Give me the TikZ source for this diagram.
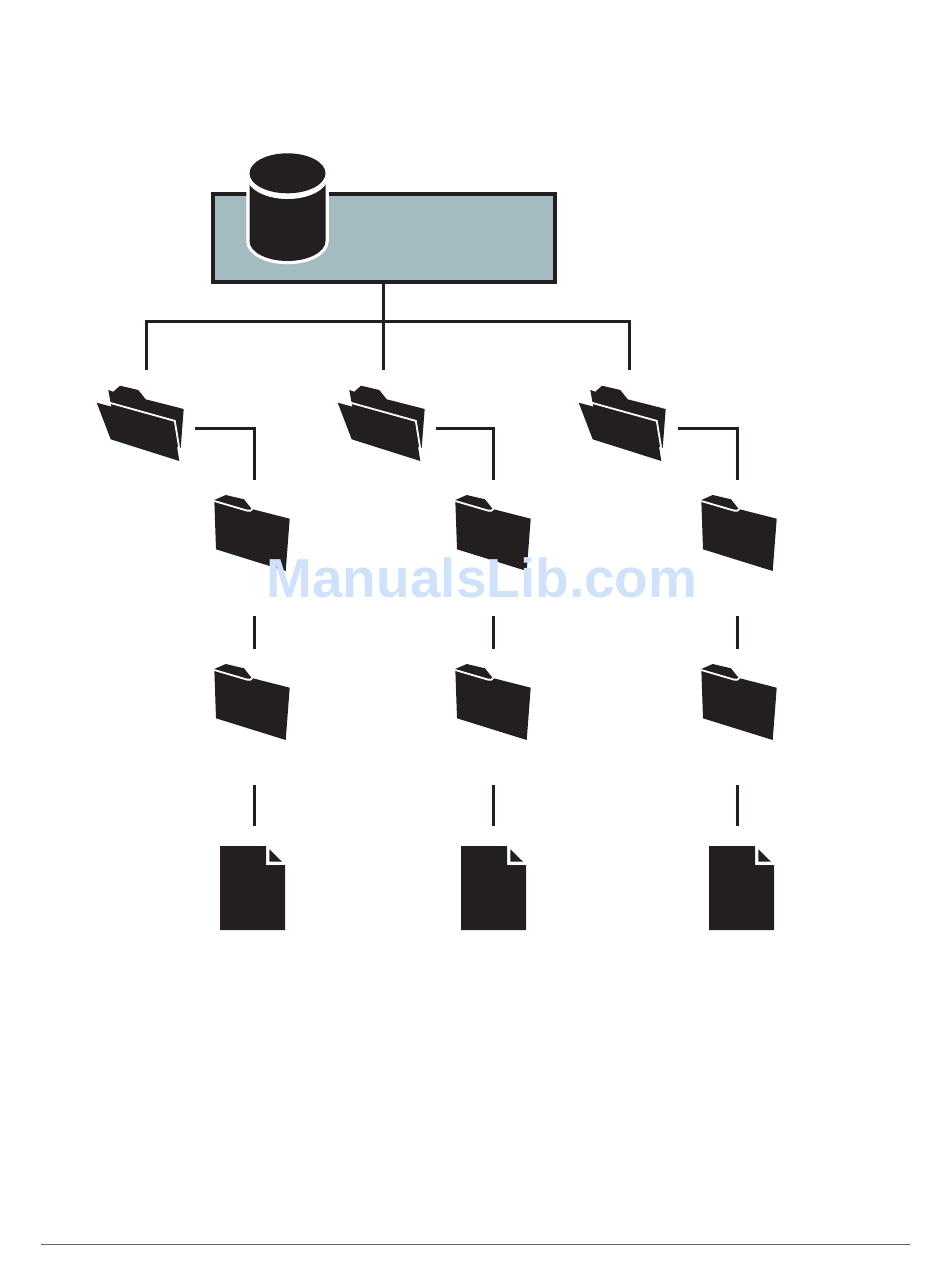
\documentclass[tikz,border=0pt]{standalone}
\usepackage{fontspec}
\setmainfont{Liberation Sans}
\definecolor{ink}{HTML}{231F20}
\definecolor{panel}{HTML}{A3BBC1}
\definecolor{mark}{HTML}{CFE2FA}
\tikzset{
  conn/.style={draw=ink,line width=3pt,line cap=butt,line join=miter},
  dbbox/.style={draw=ink,fill=panel,line width=4pt,minimum width=342pt,minimum height=88pt,inner sep=0pt,outer sep=0pt},
  icon/.style={fill=ink,draw=none},
  gap/.style={draw=white,line width=1.8pt,line join=miter},
  footline/.style={draw=ink!70,line width=0.8pt},
  wm/.style={text=mark,font=\bfseries\fontsize{55}{55}\selectfont,inner sep=0pt,anchor=base}
}
\newcommand{\openfolder}[2]{%
  \begin{scope}[shift={(#1,#2)}]
    \fill[icon] (12.3,-12.7) -- (17.3,-11) -- (24,-17) -- (42.3,-12.7) -- (49.7,-3.4) -- (87.7,6.3) -- (84.7,45.3) -- (20,30) -- cycle;
    \fill[icon] (0.7,0) -- (77.3,20.6) -- (83.3,58.3) -- (14.7,36.6) -- cycle;
    \draw[gap] (12,-0.4) -- (78.8,18.2) -- (84.6,54);
  \end{scope}}
\newcommand{\closedfolder}[2]{%
  \begin{scope}[shift={(#1,#2)}]
    \fill[icon] (0.3,6) -- (11.7,1) -- (30,5.3) -- (37.7,15) -- (75.7,24.7) -- (71.7,77) -- (2,55.3) -- cycle;
    \draw[gap] (0.3,7) -- (33,16.6) .. controls (36,17.4) and (37.4,16.5) .. (38.3,15);
  \end{scope}}
\newcommand{\docicon}[2]{%
  \begin{scope}[shift={(#1,#2)}]
    \fill[icon] (0,0) -- (46,0) -- (46,19) -- (65,19) -- (65,84) -- (0,84) -- cycle;
    \fill[icon] (49.3,3.3) -- (49.3,15.7) -- (62,15.7) -- cycle;
  \end{scope}}
\begin{document}
\begin{tikzpicture}[x=1pt,y=-1pt]
\useasboundingbox (0,0) rectangle (950,1266);
% named connector ends
\coordinate (drop1) at (146.5,370);
\coordinate (drop2) at (383.5,370);
\coordinate (drop3) at (629.5,370);
\coordinate (bus1) at (146.5,321.5);
\coordinate (bus3) at (629.5,321.5);
\coordinate (ea1) at (195,428);
\coordinate (eb1) at (254.5,428);
\coordinate (ec1) at (254.5,480);
\coordinate (ea2) at (436,428);
\coordinate (eb2) at (493.5,428);
\coordinate (ec2) at (493.5,480);
\coordinate (ea3) at (678,428);
\coordinate (eb3) at (737,428);
\coordinate (ec3) at (737,480);
\coordinate (ma1) at (254.5,616);
\coordinate (mb1) at (254.5,649);
\coordinate (ma2) at (493.5,616);
\coordinate (mb2) at (493.5,649);
\coordinate (ma3) at (737,616);
\coordinate (mb3) at (737,649);
\coordinate (la1) at (254.5,785);
\coordinate (lb1) at (254.5,826);
\coordinate (la2) at (493.5,785);
\coordinate (lb2) at (493.5,826);
\coordinate (la3) at (737,785);
\coordinate (lb3) at (737,826);
\coordinate (footl) at (41,1244.5);
\coordinate (footr) at (910,1244.5);
% database box
\node[dbbox] (db) at (384,238) {};
\coordinate (dbfoot) at (383.5,282);
% cylinder: white halo, then solid body, then lid
\path[draw=white,line width=6.5pt] (249.5,174) -- (325.5,174) -- (325.5,241)
  .. controls (325.5,252) and (308.5,261) .. (287.5,261)
  .. controls (266.5,261) and (249.5,252) .. (249.5,241) -- cycle;
\fill[ink] (249.5,174) -- (325.5,174) -- (325.5,241)
  .. controls (325.5,252) and (308.5,261) .. (287.5,261)
  .. controls (266.5,261) and (249.5,252) .. (249.5,241) -- cycle;
\fill[white] (287.5,176) ellipse [x radius=41,y radius=23];
\fill[ink] (287.5,173.3) ellipse [x radius=38,y radius=20];
% connectors
\draw[conn] (dbfoot) -- (drop2);
\draw[conn] (drop1) -- (bus1) -- (bus3) -- (drop3);
\foreach \c in {1,2,3}{
  \draw[conn] (ea\c) -- (eb\c) -- (ec\c);
  \draw[conn] (ma\c) -- (mb\c);
  \draw[conn] (la\c) -- (lb\c);
}
% icons
\openfolder{96}{402.7}
\openfolder{337}{402.7}
\openfolder{578}{402.7}
\foreach \x in {214,455,701}{
  \closedfolder{\x}{494}
  \closedfolder{\x}{663}
}
\docicon{220}{846}
\docicon{461}{846}
\docicon{709}{846}
\draw[footline] (footl) -- (footr);
\node[wm] (watermark) at (482,597.7) {ManualsLib.com};
\end{tikzpicture}
\end{document}
